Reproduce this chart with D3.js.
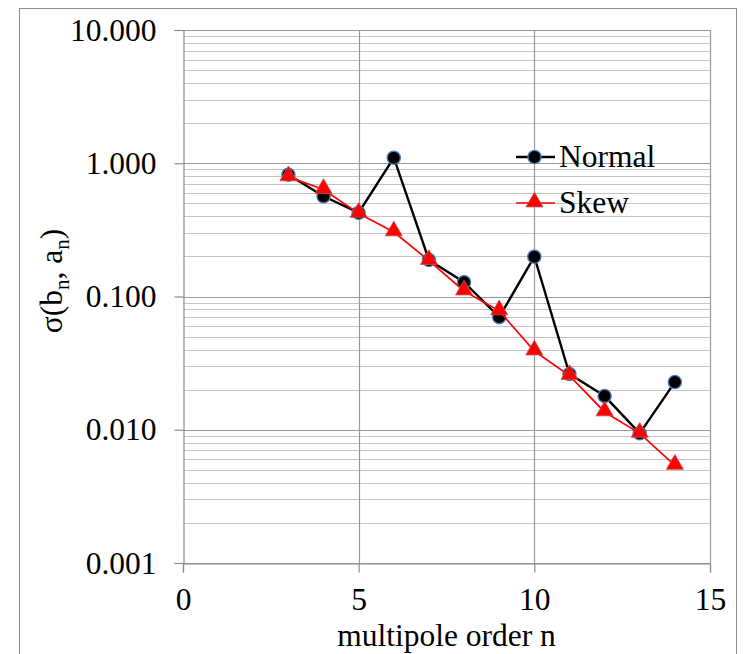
<!DOCTYPE html>
<html>
<head>
<meta charset="utf-8">
<script src="https://cdn.jsdelivr.net/npm/d3@7"></script>
<style>
  html, body { margin: 0; padding: 0; background: #fff; }
  svg { display: block; }
</style>
</head>
<body>
<svg id="chart" width="743" height="654"></svg>
<script>
// ---- data ----
const orders = [3, 4, 5, 6, 7, 8, 9, 10, 11, 12, 13, 14];
const normalValues = [0.82, 0.565, 0.425, 1.10, 0.188, 0.128, 0.070, 0.199, 0.0262, 0.0179, 0.0094, 0.0228];
const skewValues   = [0.79, 0.635, 0.420, 0.305, 0.186, 0.110, 0.078, 0.0390, 0.0255, 0.0136, 0.0094, 0.0054];
const xTicks = [0, 5, 10, 15];
const yTicks = [10, 1, 0.1, 0.01, 0.001];
const seriesNames = ["Normal", "Skew"];

const FONT = "'Liberation Serif', 'Times New Roman', Tinos, 'DejaVu Serif', serif";
const FS = 31.5;

// ---- layout ----
const svg = d3.select("#chart");
const plot = { left: 183, right: 710, top: 30, bottom: 563 };
const x = d3.scaleLinear().domain([0, 15]).range([plot.left, plot.right]);
const y = d3.scaleLog().domain([0.001, 10]).range([plot.bottom, plot.top]);

// outer chart border
svg.append("rect")
  .attr("x", 19.5).attr("y", 8.5)
  .attr("width", 717).attr("height", 660)
  .attr("fill", "none").attr("stroke", "#8c8c8c").attr("stroke-width", 1);

// minor + major horizontal gridlines
const minorVals = [];
for (let e = -3; e < 1; e++) {
  for (let m = 2; m <= 9; m++) minorVals.push(m * Math.pow(10, e));
}
svg.append("g").selectAll("line").data(minorVals).join("line")
  .attr("x1", plot.left).attr("x2", plot.right)
  .attr("y1", d => Math.round(y(d)) + 0.5).attr("y2", d => Math.round(y(d)) + 0.5)
  .attr("stroke", "#c4c4c4").attr("stroke-width", 1);

svg.append("g").selectAll("line").data(yTicks).join("line")
  .attr("x1", plot.left).attr("x2", plot.right)
  .attr("y1", d => Math.round(y(d)) + 0.5).attr("y2", d => Math.round(y(d)) + 0.5)
  .attr("stroke", "#9a9a9a").attr("stroke-width", 1.2);

// vertical gridlines
svg.append("g").selectAll("line").data(xTicks.slice(1)).join("line")
  .attr("x1", d => Math.round(x(d)) + 0.5).attr("x2", d => Math.round(x(d)) + 0.5)
  .attr("y1", plot.top).attr("y2", plot.bottom)
  .attr("stroke", "#9a9a9a").attr("stroke-width", 1.2);

// axes
const yAxis = d3.axisLeft(y).tickValues(yTicks).tickFormat(d3.format(".3f")).tickSize(9).tickPadding(18);
const gy = svg.append("g").attr("transform", `translate(${plot.left + 0.5},0)`).call(yAxis)
  .attr("font-family", FONT).attr("font-size", FS);
gy.select(".domain").attr("stroke", "#8c8c8c").attr("stroke-width", 1.2);
gy.selectAll(".tick line").attr("stroke", "#8c8c8c").attr("stroke-width", 1.2);
gy.selectAll(".tick text").attr("fill", "#000");

const xAxis = d3.axisBottom(x).tickValues(xTicks).tickFormat(d3.format("d")).tickSize(9).tickPadding(15);
const gx = svg.append("g").attr("transform", `translate(0,${plot.bottom + 0.5})`).call(xAxis)
  .attr("font-family", FONT).attr("font-size", FS);
gx.select(".domain").attr("stroke", "#8c8c8c").attr("stroke-width", 1.2);
gx.selectAll(".tick line").attr("stroke", "#8c8c8c").attr("stroke-width", 1.2);
gx.selectAll(".tick text").attr("fill", "#000");

// axis titles
svg.append("text")
  .attr("x", (plot.left + plot.right) / 2).attr("y", 646)
  .attr("text-anchor", "middle").attr("font-family", FONT).attr("font-size", FS)
  .text("multipole order n");

const yt = svg.append("text")
  .attr("transform", "translate(62,281) rotate(-90)")
  .attr("text-anchor", "middle").attr("font-family", FONT).attr("font-size", FS);
yt.append("tspan").text("σ(b");
yt.append("tspan").attr("dy", 7).attr("font-size", 21).text("n");
yt.append("tspan").attr("dy", -7).text(", a");
yt.append("tspan").attr("dy", 7).attr("font-size", 21).text("n");
yt.append("tspan").attr("dy", -7).text(")");

// series
const normal = orders.map((n, i) => ({ n, v: normalValues[i] }));
const skew = orders.map((n, i) => ({ n, v: skewValues[i] }));
const line = d3.line().x(d => x(d.n)).y(d => y(d.v));

svg.append("path").datum(normal).attr("d", line)
  .attr("fill", "none").attr("stroke", "#000").attr("stroke-width", 2.4);
svg.append("g").selectAll("circle").data(normal).join("circle")
  .attr("cx", d => x(d.n)).attr("cy", d => y(d.v)).attr("r", 6.6)
  .attr("fill", "#000").attr("stroke", "#4a7ebb").attr("stroke-width", 1.3);

const tri = d3.symbol().type(d3.symbolTriangle).size(125);
svg.append("path").datum(skew).attr("d", line)
  .attr("fill", "none").attr("stroke", "#ff0000").attr("stroke-width", 1.7);
svg.append("g").selectAll("path").data(skew).join("path")
  .attr("d", tri)
  .attr("transform", d => `translate(${x(d.n)},${y(d.v) - 1})`)
  .attr("fill", "#ff0000").attr("stroke", "#c0504d").attr("stroke-width", 0.8);

// legend
const legend = svg.append("g");
const lx1 = 516, lx2 = 555, lmx = 534.5;
const legY = [157, 203];
legend.append("line").attr("x1", lx1).attr("x2", lx2).attr("y1", legY[0]).attr("y2", legY[0])
  .attr("stroke", "#000").attr("stroke-width", 2.4);
legend.append("circle").attr("cx", lmx).attr("cy", legY[0]).attr("r", 6.6)
  .attr("fill", "#000").attr("stroke", "#4a7ebb").attr("stroke-width", 1.3);
legend.append("line").attr("x1", lx1).attr("x2", lx2).attr("y1", legY[1]).attr("y2", legY[1])
  .attr("stroke", "#ff0000").attr("stroke-width", 1.7);
legend.append("path").attr("d", tri).attr("transform", `translate(${lmx},${legY[1] - 1})`)
  .attr("fill", "#ff0000").attr("stroke", "#c0504d").attr("stroke-width", 0.8);
legend.selectAll("text").data(seriesNames).join("text")
  .attr("x", 559).attr("y", (d, i) => legY[i] + 10)
  .attr("font-family", FONT).attr("font-size", FS).text(d => d);
</script>
</body>
</html>
